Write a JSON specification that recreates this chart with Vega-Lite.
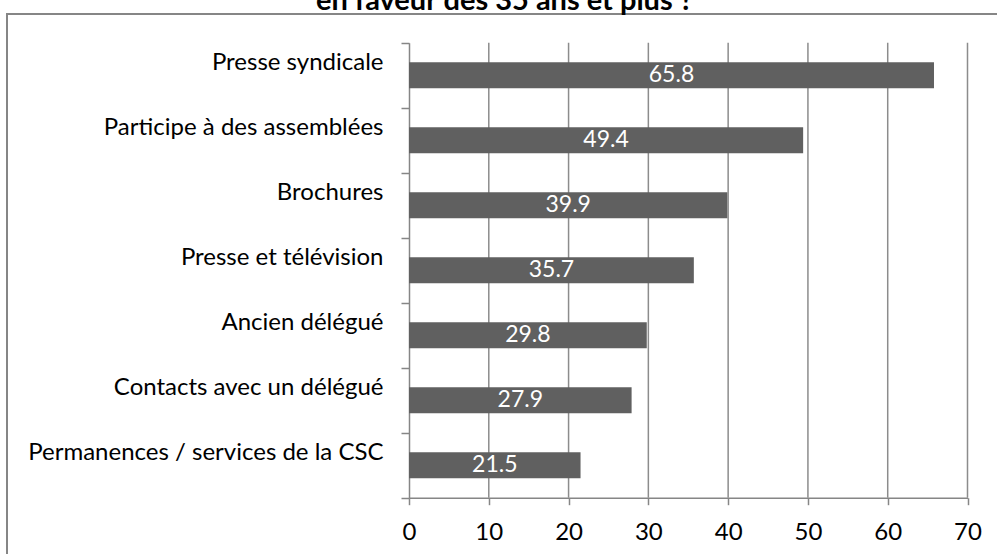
{
  "$schema": "https://vega.github.io/schema/vega-lite/v6.json",
  "autosize": "none",
  "width": 995,
  "height": 545,
  "padding": {"left": 7, "top": 14, "right": -5, "bottom": -5},
  "background": "white",
  "title": {
    "text": "en faveur des 35 ans et plus ?",
    "font": "Lato",
    "fontSize": 29,
    "fontWeight": "bold",
    "color": "#000000",
    "baseline": "alphabetic",
    "anchor": "middle",
    "offset": -37
  },
  "data": {
    "values": [
      {"item": "Presse syndicale", "value": 65.8},
      {"item": "Participe à des assemblées", "value": 49.4},
      {"item": "Brochures", "value": 39.9},
      {"item": "Presse et télévision", "value": 35.7},
      {"item": "Ancien délégué", "value": 29.8},
      {"item": "Contacts avec un délégué", "value": 27.9},
      {"item": "Permanences / services de la CSC", "value": 21.5}
    ]
  },
  "encoding": {
    "y": {
      "field": "item",
      "type": "nominal",
      "sort": {"field": "value", "order": "descending"},
      "scale": {"range": [28.7, 483.7], "paddingInner": 0, "paddingOuter": 0},
      "axis": {
        "title": null,
        "offset": -402,
        "tickBand": "extent",
        "labelOffset": -13,
        "tickSize": 8,
        "labelPadding": 18,
        "labelFont": "Lato",
        "labelFontSize": 24,
        "labelColor": "#000000",
        "labelLimit": 0,
        "domainColor": "#868686",
        "domainWidth": 1.5,
        "tickColor": "#868686",
        "tickWidth": 1.5,
        "grid": false
      }
    }
  },
  "layer": [
    {
      "data": {"values": [{"g": 10}, {"g": 20}, {"g": 30}, {"g": 40}, {"g": 50}, {"g": 60}, {"g": 70}]},
      "mark": {"type": "rule", "color": "#8c8c8c", "strokeWidth": 1.5},
      "encoding": {
        "x": {"field": "g", "type": "quantitative"},
        "y": {"value": {"expr": "range('y')[0]"}},
        "y2": {"value": {"expr": "range('y')[1]"}}
      }
    },
    {
      "mark": {"type": "bar", "color": "#606060", "size": 26},
      "encoding": {
        "x": {
          "field": "value",
          "type": "quantitative",
          "scale": {"domain": [0, 70], "range": [402, 960.5], "nice": false, "zero": true},
          "axis": {
            "title": null,
            "values": [0, 10, 20, 30, 40, 50, 60, 70],
            "offset": -61.3,
            "tickSize": 7,
            "tickColor": "#868686",
            "tickWidth": 1.5,
            "domainColor": "#868686",
            "domainWidth": 1.5,
            "grid": false,
            "labelFont": "Lato",
            "labelFontSize": 24,
            "labelColor": "#000000",
            "labelPadding": 16,
            "labelFlush": false
          }
        }
      }
    },
    {
      "mark": {"type": "text", "color": "#ffffff", "font": "Lato", "fontSize": 23, "baseline": "middle", "align": "center"},
      "encoding": {
        "x": {"field": "value", "type": "quantitative", "stack": "zero", "bandPosition": 0.5},
        "text": {"field": "value", "type": "quantitative", "format": ".1f"}
      }
    }
  ],
  "config": {
    "view": {"stroke": "#868686", "strokeWidth": 2},
    "axis": {"grid": false}
  }
}
